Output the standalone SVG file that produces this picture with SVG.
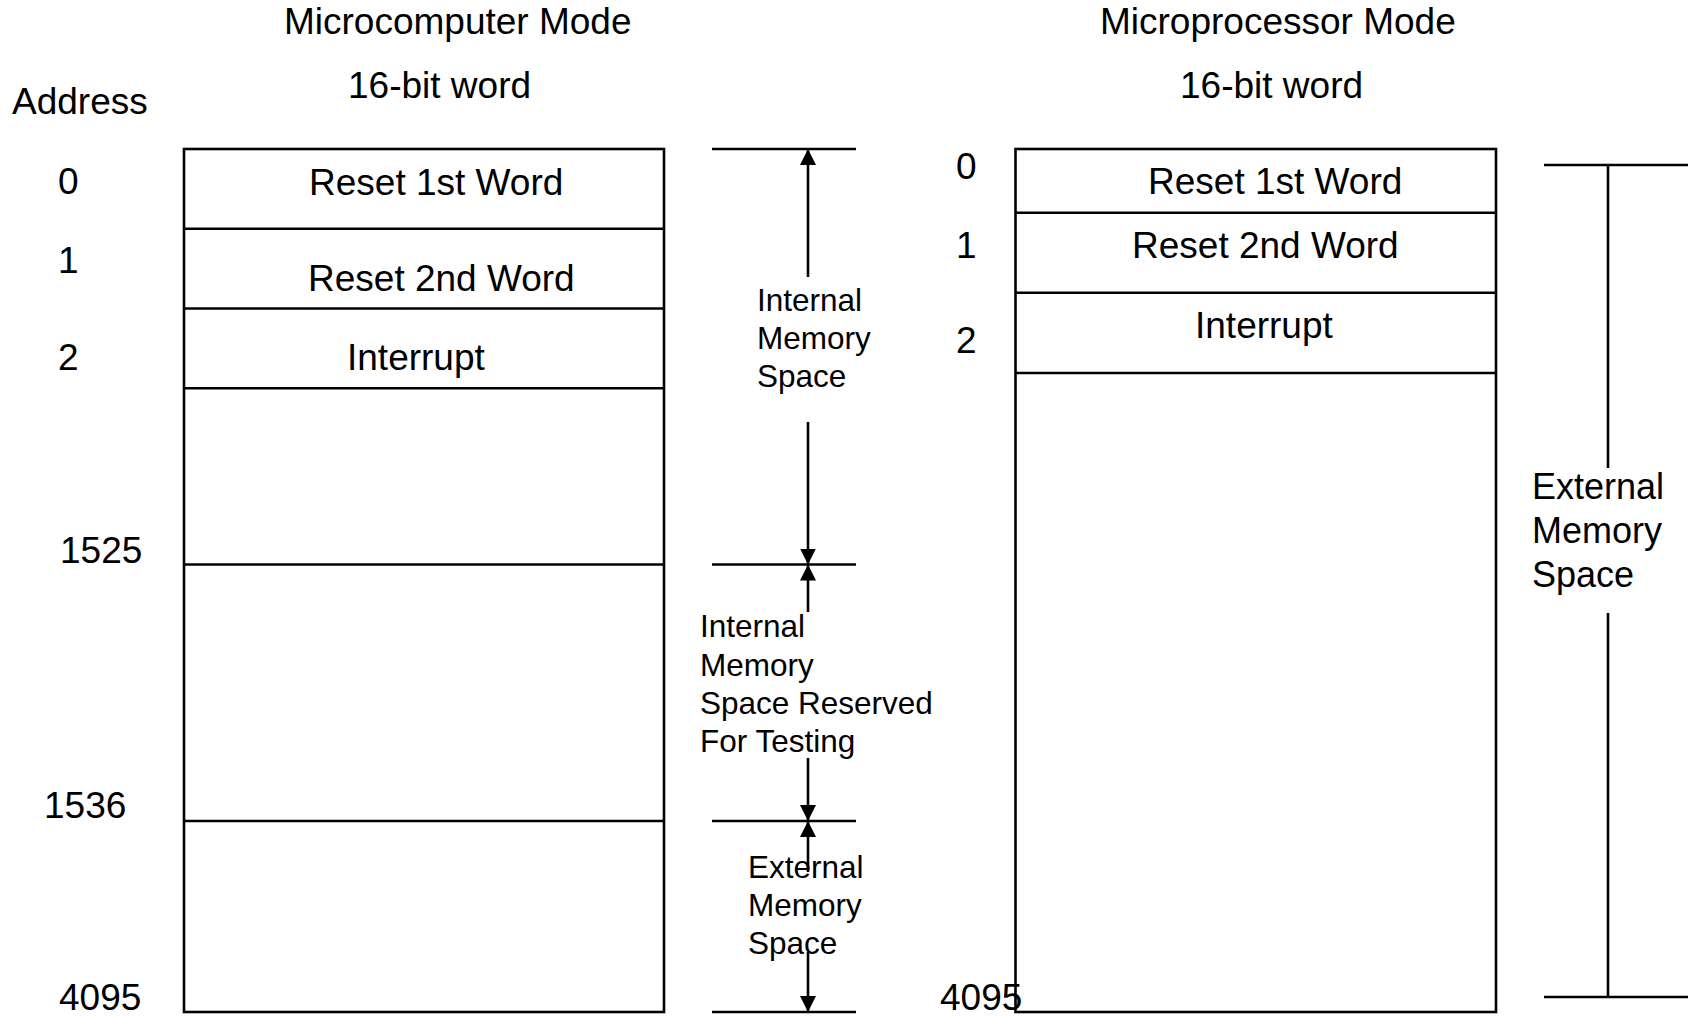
<svg xmlns="http://www.w3.org/2000/svg" width="1692" height="1016" viewBox="0 0 1692 1016">
  <style>
    text { font-family: "Liberation Sans", Arial, sans-serif; fill: #000; }
    .big { font-size: 37px; }
    .mid { font-size: 31.5px; }
    .ext { font-size: 36px; }
    .box { fill: #fff; stroke: #000; stroke-width: 2.6; }
    .ln { stroke: #000; stroke-width: 2.6; fill: none; }
  </style>
  <defs>
    <marker id="arr" viewBox="0 0 16 16" refX="16" refY="8" markerWidth="16" markerHeight="16" markerUnits="userSpaceOnUse" orient="auto">
      <path d="M0,0 L16,8 L0,16 z" fill="#000"/>
    </marker>
  </defs>
  <rect width="1692" height="1016" fill="#fff"/>

  <g id="headers">
    <text class="big" x="284" y="34">Microcomputer Mode</text>
    <text class="big" x="348" y="98">16-bit word</text>
    <text class="big" x="12" y="114">Address</text>
    <text class="big" x="1100" y="34">Microprocessor Mode</text>
    <text class="big" x="1180" y="98">16-bit word</text>
  </g>

  <g id="microcomputer-map">
    <rect class="box" x="184" y="149" width="480" height="863"/>
    <line class="ln" x1="184" y1="228.7" x2="664" y2="228.7"/>
    <line class="ln" x1="184" y1="308.5" x2="664" y2="308.5"/>
    <line class="ln" x1="184" y1="388.3" x2="664" y2="388.3"/>
    <line class="ln" x1="184" y1="564.5" x2="664" y2="564.5"/>
    <line class="ln" x1="184" y1="821" x2="664" y2="821"/>
    <text class="big" x="309" y="195">Reset 1st Word</text>
    <text class="big" x="308" y="291">Reset 2nd Word</text>
    <text class="big" x="347" y="370">Interrupt</text>
  </g>

  <g id="microcomputer-addresses">
    <text class="big" x="58" y="194">0</text>
    <text class="big" x="58" y="273">1</text>
    <text class="big" x="58" y="370">2</text>
    <text class="big" x="60" y="563">1525</text>
    <text class="big" x="44" y="818">1536</text>
    <text class="big" x="59" y="1010">4095</text>
  </g>

  <g id="microprocessor-map">
    <rect class="box" x="1015.5" y="149" width="480.5" height="863"/>
    <line class="ln" x1="1015.5" y1="212.8" x2="1496" y2="212.8"/>
    <line class="ln" x1="1015.5" y1="292.8" x2="1496" y2="292.8"/>
    <line class="ln" x1="1015.5" y1="373" x2="1496" y2="373"/>
    <text class="big" x="1148" y="194">Reset 1st Word</text>
    <text class="big" x="1132" y="258">Reset 2nd Word</text>
    <text class="big" x="1195" y="338">Interrupt</text>
  </g>

  <g id="microprocessor-addresses">
    <text class="big" x="956" y="179">0</text>
    <text class="big" x="956" y="258">1</text>
    <text class="big" x="956" y="353">2</text>
    <text class="big" x="940" y="1010">4095</text>
  </g>

  <g id="connectors">
    <line class="ln" x1="712" y1="149" x2="856" y2="149"/>
    <line class="ln" x1="712" y1="564.5" x2="856" y2="564.5"/>
    <line class="ln" x1="712" y1="821" x2="856" y2="821"/>
    <line class="ln" x1="712" y1="1012" x2="856" y2="1012"/>
    <line class="ln" x1="808" y1="277" x2="808" y2="149" marker-end="url(#arr)"/>
    <line class="ln" x1="808" y1="422" x2="808" y2="564.5" marker-end="url(#arr)"/>
    <line class="ln" x1="808" y1="612" x2="808" y2="564.5" marker-end="url(#arr)"/>
    <line class="ln" x1="808" y1="758" x2="808" y2="821" marker-end="url(#arr)"/>
    <line class="ln" x1="808" y1="872" x2="808" y2="821" marker-end="url(#arr)"/>
    <line class="ln" x1="808" y1="952" x2="808" y2="1012" marker-end="url(#arr)"/>
    <line class="ln" x1="1544" y1="165" x2="1688" y2="165"/>
    <line class="ln" x1="1544" y1="997" x2="1688" y2="997"/>
    <line class="ln" x1="1608" y1="165" x2="1608" y2="468"/>
    <line class="ln" x1="1608" y1="613" x2="1608" y2="997"/>
  </g>

  <g id="label-internal">
    <text class="mid" x="757" y="311">Internal</text>
    <text class="mid" x="757" y="349">Memory</text>
    <text class="mid" x="757" y="387">Space</text>
  </g>
  <g id="label-reserved">
    <text class="mid" x="700" y="637">Internal</text>
    <text class="mid" x="700" y="676">Memory</text>
    <text class="mid" x="700" y="714">Space Reserved</text>
    <text class="mid" x="700" y="752">For Testing</text>
  </g>
  <g id="label-external-left">
    <text class="mid" x="748" y="878">External</text>
    <text class="mid" x="748" y="916">Memory</text>
    <text class="mid" x="748" y="954">Space</text>
  </g>
  <g id="label-external-right">
    <text class="ext" x="1532" y="499">External</text>
    <text class="ext" x="1532" y="543">Memory</text>
    <text class="ext" x="1532" y="587">Space</text>
  </g>
</svg>
